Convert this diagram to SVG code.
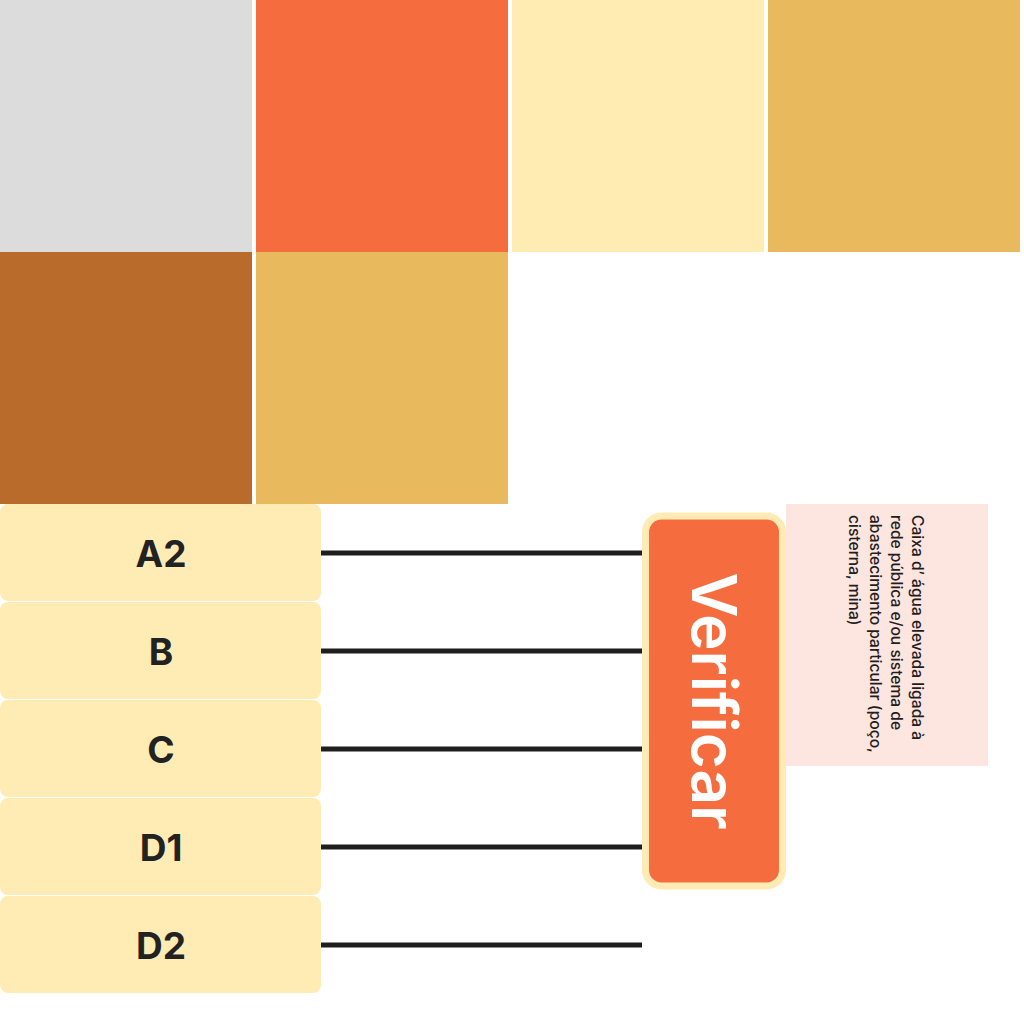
<svg xmlns="http://www.w3.org/2000/svg" width="1024" height="1024" viewBox="0 0 1024 1024">
<style>
.tile{stroke:none}
.box{fill:#FFECB5}
.lbl{font-family:Inter,"Liberation Sans",sans-serif;font-weight:700;font-size:37px;fill:#222222;text-anchor:middle;dominant-baseline:central}
.conn{stroke:#1E1E1E;stroke-width:5;fill:none}
.note{font-family:Inter,"Liberation Sans",sans-serif;font-size:15.6px;font-weight:500;fill:#1E1E1E}
</style>
<rect width="1024" height="1024" fill="#FFFFFF"/>
<g id="tiles">
<rect class="tile" x="0" y="0" width="252" height="252" fill="#DCDCDC"/>
<rect class="tile" x="256" y="0" width="252" height="252" fill="#F56C3E"/>
<rect class="tile" x="512" y="0" width="252" height="252" fill="#FFECB3"/>
<rect class="tile" x="768" y="0" width="252" height="252" fill="#E9B95D"/>
<rect class="tile" x="0" y="252" width="252" height="252" fill="#B86B2B"/>
<rect class="tile" x="256" y="252" width="252" height="252" fill="#E9B95D"/>
</g>
<g id="connectors">
<line class="conn" x1="321" y1="553" x2="642" y2="553"/>
<line class="conn" x1="321" y1="651" x2="642" y2="651"/>
<line class="conn" x1="321" y1="749" x2="642" y2="749"/>
<line class="conn" x1="321" y1="847" x2="642" y2="847"/>
<line class="conn" x1="321" y1="945" x2="642" y2="945"/>
</g>
<g id="node-A2"><rect class="box" x="0" y="504" width="321" height="97" rx="8"/><text class="lbl" x="161" y="553">A2</text></g>
<g id="node-B"><rect class="box" x="0" y="602" width="321" height="97" rx="8"/><text class="lbl" x="161" y="651">B</text></g>
<g id="node-C"><rect class="box" x="0" y="700" width="321" height="97" rx="8"/><text class="lbl" x="161" y="749">C</text></g>
<g id="node-D1"><rect class="box" x="0" y="798" width="321" height="97" rx="8"/><text class="lbl" x="161" y="847">D1</text></g>
<g id="node-D2"><rect class="box" x="0" y="896" width="321" height="97" rx="8"/><text class="lbl" x="161" y="945">D2</text></g>
<g id="node-verificar">
<rect x="645.5" y="516" width="137" height="370" rx="16" fill="#F56C3E" stroke="#FFEBB3" stroke-width="7"/>
<text transform="translate(714,701) rotate(90)" font-family="Inter,'Liberation Sans',sans-serif" font-size="62" font-weight="600" fill="#FFFFFF" text-anchor="middle" dominant-baseline="central">Verificar</text>
</g>
<g id="node-note">
<rect x="786" y="504" width="202" height="262" fill="#FDE5E0"/>
<text class="note" transform="translate(912,515) rotate(90)">
<tspan x="0" y="0">Caixa d’ água elevada ligada à</tspan>
<tspan x="0" y="21">rede pública e/ou sistema de</tspan>
<tspan x="0" y="42">abastecimento particular (poço,</tspan>
<tspan x="0" y="63">cisterna, mina)</tspan>
</text>
</g>
</svg>
